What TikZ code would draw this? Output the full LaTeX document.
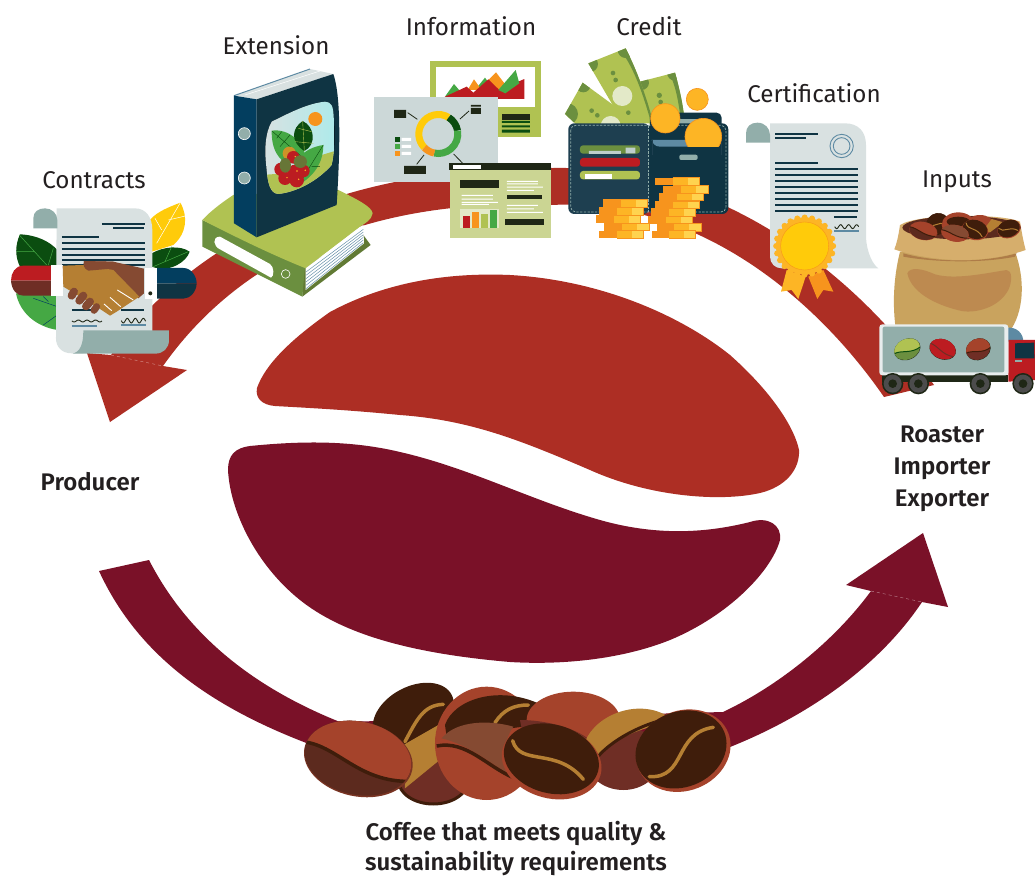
\documentclass[tikz,border=0pt]{standalone}
\usepackage{fontspec}
\setmainfont{Fira Sans}[BoldFont=* SemiBold]
\definecolor{bandred}{HTML}{AD2E24}
\definecolor{maroon}{HTML}{7A1128}
\definecolor{navy}{HTML}{0F3443}
\definecolor{panel}{HTML}{1E3F50}
\definecolor{bluec}{HTML}{033E5F}
\definecolor{steel}{HTML}{5D8AA3}
\definecolor{dkgreen}{HTML}{0B4D10}
\definecolor{leaf}{HTML}{45A844}
\definecolor{olive}{HTML}{6B8F3F}
\definecolor{dkolive}{HTML}{617A34}
\definecolor{lime}{HTML}{B0C252}
\definecolor{pale}{HTML}{CBD593}
\definecolor{yel}{HTML}{FFCB0A}
\definecolor{orangec}{HTML}{F7941D}
\definecolor{gold}{HTML}{FDB525}
\definecolor{lightgold}{HTML}{FFD34F}
\definecolor{teal}{HTML}{92AEAA}
\definecolor{paper}{HTML}{D9E1E1}
\definecolor{board}{HTML}{CCD8D8}
\definecolor{ink}{HTML}{1F2716}
\definecolor{crimson}{HTML}{BC1C21}
\definecolor{tan}{HTML}{B57F33}
\definecolor{sack}{HTML}{C9A35E}
\definecolor{sacklt}{HTML}{D6AE6C}
\definecolor{sackdk}{HTML}{BD8A50}
\definecolor{rust}{HTML}{A5432B}
\definecolor{brownA}{HTML}{5C2A1E}
\definecolor{brownB}{HTML}{6F2E25}
\definecolor{brownC}{HTML}{854A32}
\definecolor{coffee}{HTML}{3F1D0B}
\definecolor{txt}{HTML}{231F20}
\definecolor{billpale}{HTML}{E3E9C8}
\tikzset{
 zm/.style 2 args={shift={(#1pt,-#2pt)},x=0.3333pt,y=-0.3333pt},
 lab/.style={text=txt,font=\fontsize{24.2}{28}\selectfont,inner sep=0pt,anchor=base},
 blab/.style={text=txt,font=\fontsize{24}{32}\selectfont\bfseries,inner sep=0pt,anchor=center,align=center},
 blabt/.style={text=txt,font=\fontsize{24}{30}\selectfont\bfseries,inner sep=0pt,anchor=north,align=center},
 rule/.style={line width=1.7pt,navy},
}
\newcommand{\beansw}{1.5pt}
% x y rot rx ry rim top bottom seam
\newcommand{\cofbean}[9]{%
 \begin{scope}[shift={(#1,#2)},rotate=#3,xscale=#4,yscale=#5]
  \fill[#6] (0,0) circle[radius=1];
  \begin{scope}
  \clip (-.01,-.02) circle[radius=.98];
  \fill[#8] (-1.1,-1.1) rectangle (1.1,1.1);
  \fill[#7] (-1.1,-1.1) -- (-1.1,-.15) -- (-1,-.15) .. controls (-.4,-.2) and (.1,.6) .. (1,.3) -- (1.1,.3) -- (1.1,-1.1) -- cycle;
  \draw[#9,line width=\beansw] (-1,-.15) .. controls (-.4,-.2) and (.1,.6) .. (1,.3);
  \end{scope}
 \end{scope}}
% x y rot rx ry rim body
\newcommand{\goldbean}[7]{%
 \begin{scope}[shift={(#1,#2)},rotate=#3,xscale=#4,yscale=#5]
  \fill[#6] (0,0) circle[radius=1];
  \fill[#7] (-.01,-.06) circle[radius=.95];
  \draw[tan,line width=\beansw,line cap=round] (-.78,-.45) .. controls (-.55,.25) and (.1,-.35) .. (.65,.48);
 \end{scope}}
\begin{document}
\begin{tikzpicture}[x=1pt,y=-1pt]
\useasboundingbox (0,0) rectangle (1035,876);
\fill[white] (0,0) rectangle (1035,876);

% ===== big arrows =====
\fill[bandred] (111,355) .. controls (170,270) and (300,165) .. (553,168)
 .. controls (710,165) and (850,265) .. (934,385) -- (884,397)
 .. controls (810,290) and (690,198) .. (551,205)
 .. controls (380,198) and (245,250) .. (163,366)
 -- (187,370) -- (110,422) -- (87,353) -- cycle;
\draw[white,opacity=.5,line width=.4pt,dashed] (111,355) -- (163,366);
\fill[maroon] (99,571) .. controls (140,660) and (220,715) .. (340,755)
 -- (730,747) .. controls (810,715) and (880,665) .. (922,602)
 -- (948,607) -- (923,533) -- (846,585) -- (871,591)
 .. controls (835,640) and (780,685) .. (723,712) -- (340,722)
 .. controls (260,690) and (190,640) .. (149,560) -- cycle;
\draw[white,opacity=.5,line width=.4pt,dashed] (871,591) -- (922,602);

% ===== central bean =====
\fill[bandred] (257,388) .. controls (265,365) and (290,340) .. (330,312) .. controls (380,285) and (440,272) .. (510,275) .. controls (600,280) and (680,315) .. (730,355) .. controls (775,395) and (795,430) .. (799,450) .. controls (800,470) and (785,487) .. (760,493) .. controls (720,502) and (650,497) .. (590,470) .. controls (520,440) and (470,420) .. (400,415) .. controls (350,410) and (310,408) .. (275,406) .. controls (262,405) and (255,398) .. (257,388) -- cycle;
\fill[maroon] (228,470) .. controls (228,455) and (235,448) .. (250,446) .. controls (300,441) and (350,440) .. (400,452) .. controls (470,468) and (530,500) .. (600,520) .. controls (660,537) and (710,532) .. (750,522) .. controls (768,516) and (782,525) .. (780,540) .. controls (772,570) and (730,615) .. (670,640) .. controls (620,660) and (560,665) .. (510,662) .. controls (430,655) and (350,640) .. (300,600) .. controls (255,564) and (230,510) .. (228,470) -- cycle;

% ===== contracts =====
\begin{scope}[zm={0}{150}]
 \fill[yel] (450,210) .. controls (470,185) and (510,170) .. (541,158) .. controls (565,200) and (560,250) .. (520,285) -- (455,305) -- cycle;
 \draw[white,line width=.5pt] (541,158) -- (470,280) (556,198) -- (505,210) (465,205) -- (485,240);
 \fill[dkgreen] (455,310) .. controls (490,290) and (540,285) .. (569,305) .. controls (560,335) and (510,370) .. (455,350) -- cycle;
 \draw[leaf,line width=.5pt] (565,305) -- (460,350) (515,290) -- (495,335);
 \fill[dkgreen] (60,253) .. controls (110,255) and (150,275) .. (172,300) -- (172,350) -- (60,350) .. controls (45,320) and (45,285) .. (60,253) -- cycle;
 \draw[leaf,line width=.5pt] (58,255) -- (140,345) (50,305) -- (105,305) (160,295) -- (145,345);
 \fill[leaf] (48,430) -- (172,430) -- (172,540) .. controls (110,530) and (60,490) .. (48,430) -- cycle;
 \draw[bluec,line width=.5pt] (100,445) -- (172,470) (130,525) -- (172,495) (130,440) -- (145,455);
 \fill[paper] (170,175) -- (405,175) .. controls (440,175) and (457,205) .. (457,240) -- (457,545) -- (250,545) -- (250,610) -- (215,610) .. controls (185,610) and (168,590) .. (168,565) -- cycle;
 \fill[teal] (100,235) -- (100,205) .. controls (100,185) and (115,175) .. (135,175) .. controls (155,175) and (172,190) .. (172,210) -- (172,235) -- cycle;
 \fill[teal] (250,541) -- (507,541) -- (507,570) .. controls (507,595) and (490,611) .. (465,611) -- (218,611) .. controls (240,605) and (250,585) .. (250,541) -- cycle;
 \draw[rule] (306,222) -- (435,222) (340,234) -- (432,234) (186,260) -- (297,260);
 \foreach \y in {279,297,314,330,346} \draw[rule] (186,\y) -- (435,\y);
 \draw[rule] (216,480) -- (275,480) (363,480) -- (432,480);
 \draw[ink,line width=.9pt] plot[smooth,domain=0:90,samples=30] ({216+\x},{513+3*sin(\x*14)});
 \draw[ink,line width=.9pt] plot[smooth,domain=0:73,samples=30] ({364+\x},{512+7*sin(\x*15)});
 \draw[steel,line width=1.7pt] (216,527) -- (291,527) (363,524) -- (438,524);
 % sleeves
 \fill[crimson] (155,347) -- (70,347) .. controls (45,347) and (33,370) .. (33,392) -- (155,392) -- cycle;
 \fill[brownB] (155,392) -- (33,392) .. controls (35,420) and (50,437) .. (70,437) -- (155,437) -- cycle;
 \fill[white] (154,345) rectangle (190,438);
 \fill[bluec] (468,354) -- (550,354) .. controls (575,354) and (590,380) .. (590,400) -- (468,400) -- cycle;
 \fill[navy] (468,400) -- (590,400) .. controls (590,425) and (570,446) .. (550,446) -- (468,446) -- cycle;
 % hands
 \fill[brownC] (252,333) -- (340,335) -- (432,356) -- (432,430) -- (415,445) -- (330,370) -- (265,362) .. controls (250,355) and (250,345) .. (252,333) -- cycle;
 \fill[tan] (188,347) -- (250,345) -- (340,360) -- (418,440) -- (350,485) -- (330,497) -- (290,470) -- (240,440) -- (190,410) -- cycle;
 \fill[brownC] (252,333) -- (340,335) -- (345,355) -- (265,362) .. controls (250,355) and (250,345) .. (252,333) -- cycle;
 \draw[white,line width=.9pt] (352,420) -- (400,450) (330,442) -- (362,470) (312,462) -- (335,482);
 \draw[brownC,line width=8pt,line cap=round] (222,425) -- (215,437);
 \draw[brownC,line width=8pt,line cap=round] (250,437) -- (238,452);
 \draw[brownC,line width=8pt,line cap=round] (270,455) -- (258,469);
 \draw[brownC,line width=7pt,line cap=round] (290,470) -- (282,481);
 \fill[white] (434,354) rectangle (470,446);
 \fill[ink] (451,430) circle[radius=6];
\end{scope}

% ===== extension =====
\begin{scope}[zm={195}{60}]
 \fill[dkolive] (322,710) -- (527,555) -- (505,525) -- (322,620) -- cycle;
 \fill[olive] (22,480) -- (22,560) -- (322,710) -- (330,620) -- cycle;
 \fill[lime] (22,480) .. controls (50,450) and (85,425) .. (115,405) -- (430,390) .. controls (490,420) and (530,440) .. (533,460) .. controls (530,480) and (510,490) .. (495,500) -- (332,625) .. controls (220,580) and (100,520) .. (22,480) -- cycle;
 \fill[white] (332,625) -- (505,495) -- (507,550) -- (332,690) -- cycle;
 \foreach \d in {0,1,2,3,4,5} \draw[steel,line width=.45pt] (333,{636+\d*10}) -- (505,{508+\d*8});
 \fill[white] (75,530) -- (225,612) .. controls (238,620) and (238,650) .. (228,653) -- (75,568) .. controls (55,560) and (50,530) .. (75,530) -- cycle;
 \fill[olive,draw=white,line width=.6pt] (272,642) circle[radius=13];
 % binder
 \fill[paper] (117,107) -- (345,27) -- (415,42) -- (185,118) -- cycle;
 \draw[steel,line width=1pt] (117,107) -- (345,27);
 \draw[white,line width=.5pt] (150,105) -- (375,33);
 \fill[bluec] (117,107) -- (185,118) -- (185,532) -- (117,490) -- cycle;
 \fill[navy] (185,118) -- (415,42) .. controls (432,90) and (440,200) .. (425,435) -- (185,532) -- cycle;
 \fill[teal,draw=white,line width=.6pt] (148,221) circle[radius=18] (148,354) circle[radius=18];
 \begin{scope}
  \clip (230,185) .. controls (290,155) and (340,130) .. (390,125) .. controls (410,125) and (415,140) .. (416,170) .. controls (420,220) and (420,270) .. (410,315) .. controls (370,360) and (310,395) .. (250,402) .. controls (225,400) and (218,370) .. (214,320) .. controls (208,270) and (210,220) .. (230,185) -- cycle;
  \fill[left color=paper,right color=cyan!25!paper!90!white] (200,110) rectangle (430,410);
  \fill[lime] (200,345) -- (270,340) -- (330,300) -- (430,270) -- (430,410) -- (200,410) -- cycle;
  \fill[orangec] (361,177) circle[radius=21];
  \fill[leaf] (230,212) .. controls (280,205) and (325,245) .. (330,285) -- (260,300) .. controls (235,275) and (230,245) .. (230,212) -- cycle;
  \fill[leaf] (385,255) .. controls (385,310) and (355,350) .. (310,375) -- (305,300) .. controls (330,270) and (355,260) .. (385,255) -- cycle;
  \fill[dkgreen] (323,183) .. controls (290,205) and (285,245) .. (328,273) .. controls (365,255) and (360,200) .. (323,183) -- cycle;
  \draw[lime,line width=.4pt] (323,183) -- (328,273) (310,205) -- (350,215) (300,245) -- (355,250);
  \draw[dkgreen,line width=.4pt] (232,214) -- (320,290) (245,235) -- (260,215) (255,260) -- (285,225) (385,255) -- (320,360) (350,320) -- (375,320);
  \fill[orangec!70!olive] (283,280) circle[radius=20];
 \end{scope}
 \foreach \px/\py/\r in {258/328/20,295/292/19,270/355/20,305/360/22,325/333/19,300/335/21}
   {\fill[crimson] (\px,\py) circle[radius=\r]; \fill[gold] ({\px+6},{\py-2}) circle[radius=2.5];}
 \fill[olive!75!brownA] (271,316) ellipse[x radius=17,y radius=22];
 \fill[olive!75!brownA] (316,305) ellipse[x radius=20,y radius=19];
\end{scope}

% ===== information =====
\begin{scope}[zm={360}{40}]
 \fill[lime] (210,63) rectangle (543,291);
 \fill[white] (228,80) rectangle (525,200);
 \fill[leaf] (255,170) -- (282,132) -- (310,165) -- cycle;
 \fill[leaf] (345,150) -- (375,113) -- (395,140) -- cycle;
 \fill[orangec] (323,150) -- (342,118) -- (365,150) -- cycle;
 \fill[orangec] (385,120) -- (408,97) -- (437,135) -- (415,155) -- cycle;
 \fill[crimson] (255,170) -- (320,140) -- (340,158) -- (385,118) -- (418,150) -- (493,117) -- (493,177) -- (255,177) -- cycle;
 \fill[leaf] (415,150) -- (467,90) -- (478,130) -- (436,160) -- cycle;
 \fill[ink] (426,222) rectangle (510,240);
 \fill[dkgreen] (426,243) rectangle (510,249) (426,256) rectangle (510,262) (426,269) rectangle (510,278);
 % dashboard
 \fill[board] (42,171) rectangle (414,425);
 \draw[line width=7pt,yel] (235,282) ++(58:19.5pt) arc[start angle=58,end angle=224,radius=19.5pt];
 \draw[line width=7pt,dkgreen] (235,282) ++(58:19.5pt) arc[start angle=58,end angle=10,radius=19.5pt];
 \draw[line width=7pt,leaf] (235,282) ++(10:19.5pt) arc[start angle=10,end angle=-102,radius=19.5pt];
 \draw[line width=7pt,orangec] (235,282) ++(258:19.5pt) arc[start angle=258,end angle=224,radius=19.5pt];
 \draw[ink,line width=.8pt] (143,218) -- (172,238) (327,213) -- (300,237) (192,345) -- (170,373) (281,342) -- (310,372);
 \fill[ink] (102,210) rectangle (138,234) (333,204) rectangle (363,222) (333,195) rectangle (363,200) (132,378) rectangle (198,402);
 \fill[dkgreen] (105,292) rectangle (120,306);
 \fill[leaf] (105,312) rectangle (120,327);
 \fill[orangec] (105,333) rectangle (120,348);
 \fill[white] (125,294) rectangle (153,303) (125,315) rectangle (153,324) (125,336) rectangle (153,345);
 % report
 \fill[pale] (270,370) rectangle (573,594);
 \fill[ink] (267,369) rectangle (573,389);
 \fill[white] (279,375) rectangle (363,387);
 \fill[ink] (300,420) rectangle (417,444);
 \fill[white] (305,465) rectangle (399,468) (305,476) rectangle (399,479) (305,486) rectangle (414,489) (305,492) rectangle (387,495);
 \fill[billpale] (300,507) rectangle (417,564);
 \fill[crimson] (309,528) rectangle (330,564);
 \fill[orangec] (336,516) rectangle (357,564);
 \fill[lime] (363,522) rectangle (384,564);
 \fill[leaf] (390,510) rectangle (411,564);
 \fill[white] (441,423) rectangle (534,426) (441,430) rectangle (534,433) (441,440) rectangle (549,443) (441,450) rectangle (522,453);
 \fill[ink] (441,465) rectangle (546,477);
 \fill[white] (441,495) rectangle (534,498) (441,505) rectangle (522,508) (441,516) rectangle (549,519);
 \fill[ink] (435,537) rectangle (552,555);

 % ===== credit =====
 % bill 3
 \begin{scope}
  \clip (840,125) -- (945,98) .. controls (960,150) and (970,200) .. (975,250) -- (870,255) -- cycle;
  \fill[lime] (820,90) rectangle (990,260);
  \fill[olive] (845,128) circle[radius=22] (945,98) circle[radius=24];
  \fill[olive] (948,98) -- (990,98) -- (990,260) -- (965,260) .. controls (958,200) and (950,150) .. (935,115) -- cycle;
 \end{scope}
 \fill[olive] (898,166) circle[radius=8] (902,186) circle[radius=7];
 % bill 2
 \begin{scope}
  \clip (685,70) -- (797,25) .. controls (830,90) and (860,170) .. (880,250) -- (790,250) -- cycle;
  \fill[lime] (670,20) rectangle (890,260);
  \fill[olive] (690,72) circle[radius=24] (797,30) circle[radius=24];
  \fill[olive] (797,25) -- (830,25) -- (890,255) -- (875,255) .. controls (855,180) and (828,100) .. (795,50) -- cycle;
 \end{scope}
 \fill[olive] (759,99) circle[radius=7] (767,120) circle[radius=7];
 \fill[billpale] (787,168) circle[radius=30];
 \fill[olive] (805,218) circle[radius=7];
 % bill 1
 \begin{scope}
  \clip (615,222) -- (668,128) -- (835,250) -- (650,255) -- cycle;
  \fill[lime] (610,120) rectangle (840,260);
  \fill[olive] (622,222) circle[radius=32] (670,135) circle[radius=22];
 \end{scope}
 \fill[olive] (695,212) circle[radius=7] (712,226) circle[radius=7];
 \begin{scope}
  \clip (610,120) rectangle (840,252);
  \fill[billpale] (752,258) circle[radius=30];
 \end{scope}
 % wallet
 \fill[navy,rounded corners=5pt] (870,218) rectangle (1085,300);
 \fill[teal] (955,238) -- (1040,238) -- (1040,255) -- (955,255) -- cycle;
 \fill[navy,rounded corners=6pt] (865,250) rectangle (1105,522);
 \fill[panel,rounded corners=6pt] (625,250) rectangle (868,522);
 \draw[teal,line width=.7pt,dash pattern=on 2.3pt off 1.4pt,rounded corners=5pt] (632,256) rectangle (1098,516);
 \draw[teal,line width=.7pt,dash pattern=on 2.3pt off 1.4pt] (865,256) -- (865,516);
 \fill[steel] (875,300) -- (985,300) -- (985,320) -- (900,320) .. controls (885,320) and (878,310) .. (875,300) -- cycle;
 \draw[panel,line width=.4pt] (877,300) -- (877,345) (1085,300) -- (1085,345);
 \fill[teal,rounded corners=2pt] (958,344) rectangle (1013,360);
 \fill[olive,rounded corners=3pt] (660,316) rectangle (840,341);
 \fill[teal!60!white] (687,333) rectangle (783,342) (797,323) rectangle (826,340);
 \fill[crimson,rounded corners=3pt] (660,354) rectangle (840,380);
 \fill[lime,rounded corners=3pt] (660,393) rectangle (840,418);
 \fill[white] (675,402) rectangle (756,418);
 % top coins
 \fill[gold,draw=orangec,line width=.6pt] (1012,178) circle[radius=33];
 \fill[gold,draw=orangec,line width=.6pt] (916,235) circle[radius=44];
 \begin{scope}
  \clip (960,220) rectangle (1100,321);
  \fill[gold,draw=orangec,line width=.6pt] (1030,290) circle[radius=55];
 \end{scope}
 % coin stacks
 \foreach \a/\b/\y in {729/862/478,717/850/502,708/841/526,732/867/549,717/851/572,885/1018/413,910/1044/437,897/1030/459,885/1018/483,873/1006/505,863/997/528,890/1023/550,876/1007/572}{
  \fill[orangec] (\a,\y) rectangle ({\a+.42*(\b-\a)},{\y+23});
  \fill[gold] ({\a+.4*(\b-\a)},\y) rectangle ({\a+.75*(\b-\a)},{\y+23});
  \fill[lightgold] ({\a+.74*(\b-\a)},\y) rectangle (\b,{\y+23});
  \draw[orangec,line width=.5pt] ({\a+.4*(\b-\a)},\y) -- (\b,\y) -- (\b,{\y+23}) -- ({\a+.4*(\b-\a)},{\y+23});
 }
\end{scope}

% ===== certification =====
\begin{scope}[zm={740}{110}]
 \fill[paper] (90,40) -- (315,40) .. controls (355,40) and (378,65) .. (378,105) -- (378,380) .. controls (380,430) and (400,465) .. (415,475) -- (125,475) .. controls (105,475) and (90,460) .. (90,440) -- cycle;
 \fill[teal] (18,98) -- (18,70) .. controls (18,50) and (32,38) .. (52,38) .. controls (75,38) and (90,55) .. (90,75) -- (90,98) -- cycle;
 \draw[rule] (105,72) -- (233,72) (105,84) -- (197,84) (105,158) -- (233,158);
 \foreach \y in {177,195,212,230,248,266,284,302} \draw[rule] (105,\y) -- (353,\y);
 \draw[rule] (282,320) -- (350,320);
 \draw[steel,line width=.9pt] (305,108) circle[radius=35];
 \draw[steel,line width=.9pt] (305,108) circle[radius=25];
 \draw[ink,line width=.9pt] plot[smooth,domain=0:72,samples=30] ({284+\x},{350+6*sin(\x*15)});
 \draw[steel,line width=1.7pt] (282,362) -- (357,362);
 \fill[gold] (140,480) -- (197,500) -- (175,567) -- (155,540) -- (123,545) -- cycle;
 \fill[orangec] (205,500) -- (250,480) -- (280,545) -- (250,540) -- (232,567) -- cycle;
 \fill[gold] (194,408) circle[radius=86];
 \foreach \t in {0,15,...,345} \fill[gold] (194,408) ++(\t:28.5pt) circle[radius=9];
 \fill[yel,draw=orangec,line width=.4pt] (194,408) circle[radius=72];
\end{scope}

% ===== inputs: sack and truck =====
\begin{scope}[zm={875}{205}]
 \fill[sack] (75,140) .. controls (60,200) and (50,280) .. (62,370) -- (400,385) .. controls (450,320) and (450,220) .. (420,140) -- cycle;
 \fill[sackdk] (97,205) .. controls (105,185) and (140,190) .. (180,208) .. controls (240,225) and (330,205) .. (395,195) .. controls (412,195) and (412,230) .. (400,255) .. controls (370,310) and (300,325) .. (260,318) .. controls (200,305) and (110,270) .. (97,205) -- cycle;
 \fill[sackdk!85!brownA] (85,145) .. controls (180,172) and (320,175) .. (425,145) -- (420,155) .. controls (320,175) and (180,172) .. (85,155) -- cycle;
 \fill[sacklt] (75,60) .. controls (70,95) and (65,115) .. (58,133) .. controls (100,148) and (180,165) .. (260,165) .. controls (340,165) and (410,150) .. (452,135) .. controls (445,110) and (440,80) .. (435,50) .. controls (380,25) and (130,25) .. (75,60) -- cycle;
 \fill[brownA] (260,68) ellipse[x radius=178,y radius=35];
 \renewcommand{\beansw}{1pt}
 \goldbean{188}{57}{30}{35}{32}{coffee}{coffee}
 \fill[rust] (250,60) ellipse[x radius=50,y radius=38];
 \fill[rust] (315,60) ellipse[x radius=42,y radius=30];
 \fill[coffee] (250,50) ellipse[x radius=35,y radius=15];
 \fill[tan] (325,75) -- (350,42) -- (385,52) -- (345,82) -- cycle;
 \goldbean{300}{75}{-15}{40}{30}{rust}{coffee}
 \cofbean{145}{78}{-12}{43}{27}{rust}{rust}{brownA}{coffee}
 \cofbean{240}{85}{-10}{42}{25}{rust}{brownC}{rust}{coffee}
 \goldbean{402}{72}{20}{36}{27}{rust}{coffee}
 % truck
 \fill[steel] (395,410) -- (395,368) .. controls (425,365) and (445,385) .. (445,410) -- cycle;
 \fill[crimson] (400,405) -- (480,405) -- (480,525) -- (400,530) -- cycle;
 \fill[navy] (420,415) -- (477,413) -- (478,460) -- (420,460) -- cycle;
 \fill[teal] (420,465) rectangle (440,471);
 \fill[ink] (20,510) rectangle (400,530);
 \fill[paper!60!white,rounded corners=3pt] (13,358) rectangle (400,511);
 \fill[teal,rounded corners=2pt] (23,365) rectangle (388,502);
 \renewcommand{\beansw}{1pt}
 \cofbean{97}{433}{25}{41}{31}{ink}{lime}{olive}{dkgreen}
 \cofbean{203}{433}{-20}{41}{30}{ink}{crimson}{crimson}{brownB}
 \cofbean{310}{433}{25}{38}{32}{ink}{rust}{brownB}{coffee}
 \foreach \w in {53,130,316,444}{
  \fill[ink] (\w,536) circle[radius=32];
  \fill[black!70!white] (\w,536) circle[radius=27];
  \fill[ink] (\w,536) circle[radius=13];
 }
\end{scope}

% ===== coffee beans =====
\begin{scope}[zm={290}{670}]
 \renewcommand{\beansw}{3.5pt}
 % back left bean
 \fill[brownB,draw=coffee,line width=3pt] (430,330) ellipse[x radius=105,y radius=72];
 \begin{scope}[shift={(370,135)},rotate=28]
  \fill[coffee] (0,0) ellipse[x radius=130,y radius=85];
 \end{scope}
 \fill[tan] (340,225) -- (445,165) -- (455,265) -- (345,355) -- cycle;
 \draw[tan,line width=\beansw,line cap=round] (460,103) .. controls (400,105) and (380,150) .. (345,215);
 % middle back bean
 \fill[rust] (590,220) ellipse[x radius=155,y radius=170];
 \fill[coffee] (465,165) .. controls (490,90) and (620,45) .. (745,100) -- (700,170) -- (470,200) -- cycle;
 \draw[tan,line width=\beansw,line cap=round] (615,158) .. controls (640,120) and (670,105) .. (715,105);
 \fill[brownC] (455,205) .. controls (500,150) and (600,150) .. (670,170) .. controls (635,220) and (640,280) .. (675,325) .. controls (610,285) and (540,225) .. (455,205) -- cycle;
 \draw[coffee,line width=\beansw] (440,228) .. controls (530,210) and (590,290) .. (675,325);
 % right top bean
 \fill[rust] (850,150) ellipse[x radius=140,y radius=85];
 \fill[brownB] (690,150) .. controls (760,150) and (850,170) .. (900,210) -- (700,200) -- cycle;
 % tan bean
 \fill[brownB] (1000,265) ellipse[x radius=112,y radius=95];
 \fill[tan] (885,215) .. controls (920,130) and (1050,85) .. (1135,140) -- (1085,170) .. controls (1010,190) and (950,225) .. (920,265) -- cycle;
 \draw[coffee,line width=3pt] (920,265) .. controls (950,225) and (1030,170) .. (1135,145);
 % front beans
 \begin{scope}[shift={(1180,242)},rotate=22]
  \fill[rust] (0,0) ellipse[x radius=145,y radius=120];
  \fill[coffee] (-5,-6) ellipse[x radius=140,y radius=113];
 \end{scope}
 \draw[tan,line width=\beansw,line cap=round] (1078,320) .. controls (1190,325) and (1150,190) .. (1270,172);
 \cofbean{205}{267}{-12}{165}{112}{rust!40!brownA}{rust}{brownA}{coffee}
 \begin{scope}[shift={(785,275)},rotate=-15]
  \fill[rust] (0,0) ellipse[x radius=152,y radius=110];
  \fill[coffee] (-3,-8) ellipse[x radius=145,y radius=103];
 \end{scope}
 \draw[tan,line width=\beansw,line cap=round] (668,212) .. controls (690,290) and (800,230) .. (880,328);
\end{scope}

% ===== labels =====
\node[lab] (contracts) at (94,188) {Contracts};
\node[lab] (extension) at (276,54) {Extension};
\node[lab] (information) at (471,35) {Information};
\node[lab] (credit) at (649,35) {Credit};
\node[lab] (certification) at (814,102) {Certification};
\node[lab] (inputs) at (957,187) {Inputs};
\node[blab] (producer) at (90,482) {Producer};
\node[blab] (roaster) at (942,469) {Roaster\\Importer\\Exporter};
\node[blabt] (cof) at (516,821) {Coffee that meets quality \&\\sustainability requirements};
\end{tikzpicture}
\end{document}
